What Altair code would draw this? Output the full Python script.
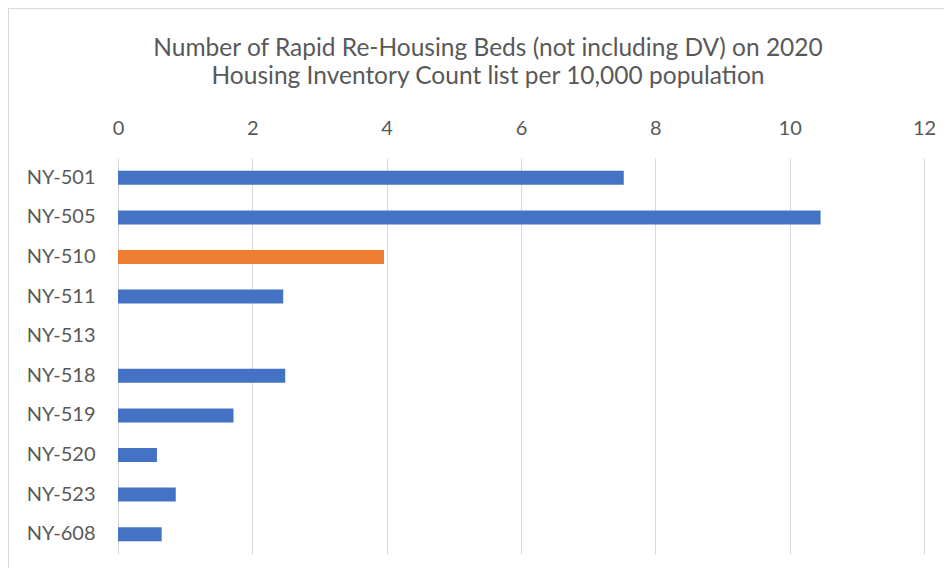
import altair as alt
import pandas as pd

regions = ["NY-501", "NY-505", "NY-510", "NY-511", "NY-513",
           "NY-518", "NY-519", "NY-520", "NY-523", "NY-608"]
beds_per_10k = [7.53, 10.46, 3.96, 2.46, 0.0, 2.49, 1.72, 0.58, 0.86, 0.65]
highlighted = ["NY-510"]
x_ticks = [0, 2, 4, 6, 8, 10, 12]
title_lines = ["Number of Rapid Re-Housing Beds (not including DV) on 2020",
               "Housing Inventory Count list per 10,000 population"]

df = pd.DataFrame({"region": regions, "value": beds_per_10k})
df["hl"] = df["region"].isin(highlighted)

TEXT = "#595959"
GRID = "#D9D9D9"

bars = alt.Chart(df).mark_bar().encode(
    x=alt.X("value:Q",
            scale=alt.Scale(domain=[0, 12], nice=False),
            axis=alt.Axis(orient="top", values=x_ticks, title=None,
                          domain=False, ticks=False, grid=True,
                          gridColor=GRID, gridWidth=1, labelFlush=False,
                          labelFont="Lato", labelFontSize=20,
                          labelColor=TEXT, labelPadding=20)),
    y=alt.Y("region:N", sort=regions,
            scale=alt.Scale(paddingInner=0.646, paddingOuter=0.323),
            axis=alt.Axis(title=None, domain=False, ticks=False, grid=False,
                          labelFont="Lato", labelFontSize=20,
                          labelColor=TEXT, labelPadding=23)),
    color=alt.condition(alt.datum.hl, alt.value("#ED7D31"), alt.value("#4472C4")),
)

frame_df = pd.DataFrame({"k": [0]})
top_line = alt.Chart(frame_df).mark_rule(color=GRID, strokeWidth=1).encode(
    x=alt.value(-110), x2=alt.value(826), y=alt.value(-149.5))
left_line = alt.Chart(frame_df).mark_rule(color=GRID, strokeWidth=1).encode(
    x=alt.value(-109.5), y=alt.value(-150), y2=alt.value(410))

chart = alt.layer(bars, top_line, left_line).properties(
    width=806, height=396,
    background="white",
    title=alt.TitleParams(text=title_lines, font="Lato", fontSize=24.5,
                          fontWeight="normal", color=TEXT, lineHeight=28,
                          anchor="middle", dx=-33, dy=96, offset=14),
    autosize=alt.AutoSizeParams(type="none"),
    padding={"left": 110, "top": 150, "right": 20, "bottom": 14},
).configure_view(stroke=None, strokeWidth=0)

chart.save("out.html", embed_options={"renderer": "svg", "actions": False})
